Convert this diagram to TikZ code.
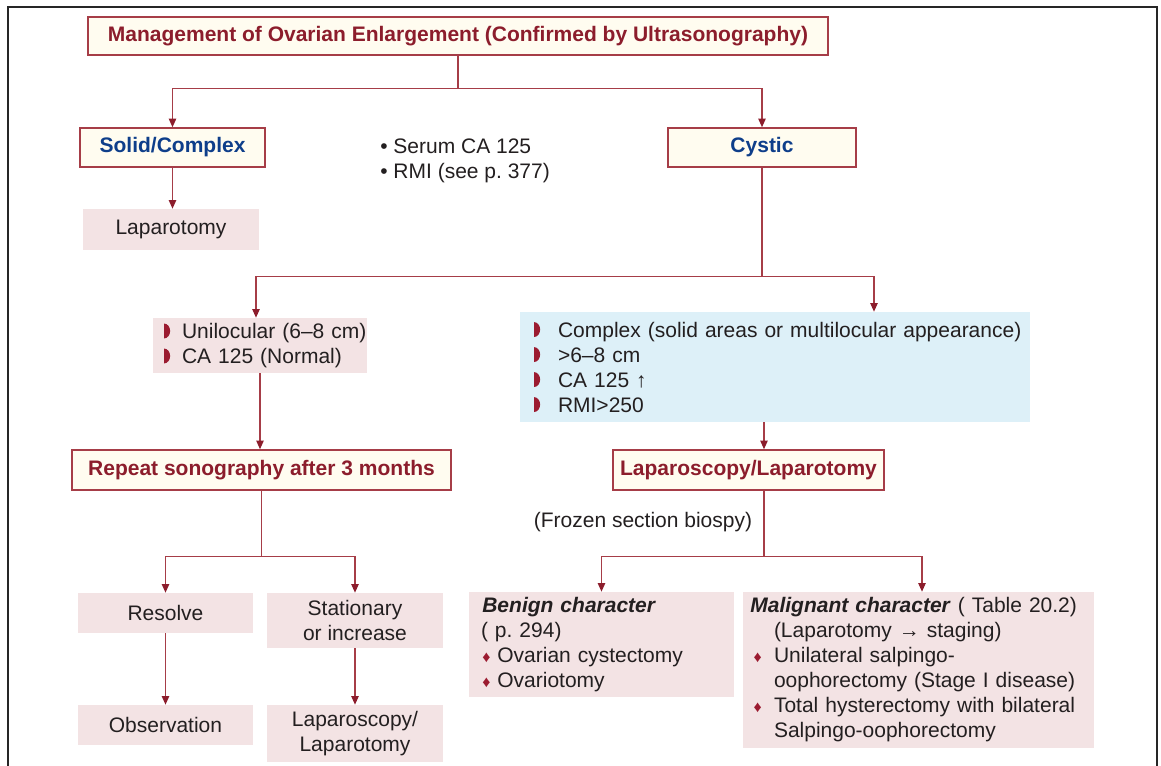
\documentclass[tikz,border=0pt]{standalone}
\usepackage{fontspec}
\setmainfont{Liberation Sans}
\usetikzlibrary{arrows.meta,calc}
\frenchspacing
\definecolor{lred}{HTML}{A63D47}
\definecolor{dred}{HTML}{8C1D2C}
\definecolor{bred}{HTML}{9B1B30}
\definecolor{cream}{HTML}{FFFCF0}
\definecolor{pinkf}{HTML}{F3E3E4}
\definecolor{bluef}{HTML}{DDF0F8}
\definecolor{navy}{HTML}{0E3E8A}
\definecolor{txt}{HTML}{231F20}
\newcommand\hbul{\tikz[x=1pt,y=1pt,baseline=0pt]\fill[bred] (0,0) arc[start angle=-90,end angle=90,x radius=4.6,y radius=5.6] -- cycle;}
\newcommand\dbul{\textcolor{bred}{\fontsize{12pt}{12pt}\selectfont ♦}}
\begin{document}
\begin{tikzpicture}[x=0.75pt,y=-0.75pt,
  font=\fontsize{15.75pt}{18.75pt}\selectfont, text=txt,
  rbox/.style={draw=lred, line width=1.1pt, fill=cream, inner sep=0pt,
    font=\bfseries\fontsize{15.75pt}{18.75pt}\selectfont, text=dred},
  nbox/.style={rbox, text=navy},
  pbox/.style={fill=pinkf, inner sep=0pt, align=center},
  lbox/.style={inner sep=0pt, align=left},
  ln/.style={draw=lred, line width=1.1pt},
  arr/.style={ln, -{Triangle[length=6.5pt,width=5.5pt,color=dred]}}]
\useasboundingbox (0,0) rectangle (1161,765);
\draw[line width=2.2pt, black!85] (8,775) -- (8,7) -- (1157,7) -- (1157,775);

% nodes
\node[rbox, minimum width=555pt, minimum height=28.5pt] (title) at (458,36)
  {Management of Ovarian Enlargement (Confirmed by Ultrasonography)};
\node[nbox, minimum width=138.75pt, minimum height=29.25pt] (solid) at (172.5,147.5) {Solid/Complex};
\node[nbox, minimum width=141pt, minimum height=29.25pt] (cystic) at (762,147.5) {Cystic};
\node[pbox, minimum width=132pt, minimum height=30.75pt] (lap1) at (171,229.5) {Laparotomy};
\node[anchor=west, align=left, inner sep=0pt] (serum) at (380,161)
  {• Serum CA 125\\• RMI (see p. 377)};

\node[lbox, fill=pinkf, minimum height=41.25pt, text width=160.5pt] (unil) at (260,345.5)
  {\hspace*{8.25pt}\makebox[13.5pt][l]{\hbul}Unilocular (6–8 cm)\\
   \hspace*{8.25pt}\makebox[13.5pt][l]{\hbul}CA 125 (Normal)};
\node[lbox, fill=bluef, minimum height=82.5pt, text width=382.5pt] (blue) at (775,367)
  {\hspace*{10.5pt}\makebox[18pt][l]{\hbul}Complex (solid areas or multilocular appearance)\\
   \hspace*{10.5pt}\makebox[18pt][l]{\hbul}>6–8 cm\\
   \hspace*{10.5pt}\makebox[18pt][l]{\hbul}CA 125 ↑\\
   \hspace*{10.5pt}\makebox[18pt][l]{\hbul}RMI>250};

\node[rbox, minimum width=284.25pt, minimum height=30pt] (repeat) at (261.5,470) {Repeat sonography after 3 months};
\node[rbox, minimum width=203.25pt, minimum height=30pt] (lapL) at (748.5,470) {Laparoscopy/Laparotomy};
\node[inner sep=0pt] (frozen) at (643,522) {(Frozen section biospy)};

\node[pbox, minimum width=131.25pt, minimum height=30pt] (resolve) at (165.5,613) {Resolve};
\node[pbox, minimum width=132pt, minimum height=41.25pt] (stat) at (355,620.5) {Stationary\\or increase};
\node[pbox, minimum width=131.25pt, minimum height=30pt] (obs) at (165.5,725) {Observation};
\node[pbox, minimum width=132pt, minimum height=42.75pt] (lap2) at (355,733.5) {Laparoscopy/\\Laparotomy};

\node[lbox, fill=pinkf, minimum height=78.75pt, text width=198.75pt] (benign) at (601.5,644.5)
  {\hspace*{10pt}\textbf{\textit{Benign character}}\\
   \hspace*{9pt}( p. 294)\\
   \hspace*{10pt}\makebox[11.25pt][l]{\dbul}Ovarian cystectomy\\
   \hspace*{10pt}\makebox[11.25pt][l]{\dbul}Ovariotomy};
\node[lbox, fill=pinkf, minimum height=117pt, text width=263.25pt] (malig) at (918.5,670)
  {\hspace*{5.5pt}\textbf{\textit{Malignant character}} ( Table 20.2)\\
   \hspace*{23.25pt}(Laparotomy → staging)\\
   \hspace*{8pt}\makebox[15.25pt][l]{\dbul}Unilateral salpingo-\\
   \hspace*{23.25pt}oophorectomy (Stage I disease)\\
   \hspace*{8pt}\makebox[15.25pt][l]{\dbul}Total hysterectomy with bilateral\\
   \hspace*{23.25pt}Salpingo-oophorectomy};

% connectors
\draw[arr] (title.south) -- ++(0,33) -| (solid.north);
\draw[arr] (title.south) -- ++(0,33) -| (cystic.north);
\draw[arr] (solid.south) -- (solid.south |- lap1.north);

\coordinate (ua) at ($(unil.north)+(-4,0)$);
\coordinate (ba) at ($(blue.north)+(99,0)$);
\draw[arr] (cystic.south) -- ++(0,109) -| (ua);
\draw[arr] (cystic.south) -- ++(0,109) -| (ba);

\draw[arr] (unil.south) -- (unil.south |- repeat.north);
\coordinate (lt) at ($(lapL.north)+(15.5,0)$);
\draw[arr] (lt |- blue.south) -- (lt);

\draw[arr] (repeat.south) -- ++(0,66) -| (resolve.north);
\draw[arr] (repeat.south) -- ++(0,66) -| (stat.north);
\draw[arr] (resolve.south) -- (obs.north);
\draw[arr] (stat.south) -- (lap2.north);

\coordinate (ls) at ($(lapL.south)+(15.5,0)$);
\coordinate (mn) at ($(malig.north)+(3.5,0)$);
\draw[arr] (ls) -- ++(0,66) -| (benign.north);
\draw[arr] (ls) -- ++(0,66) -| (mn);
\end{tikzpicture}
\end{document}
